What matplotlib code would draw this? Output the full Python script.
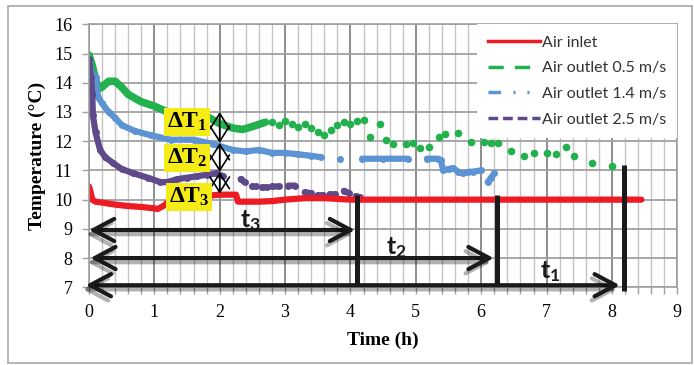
import numpy as np
import matplotlib.pyplot as plt
from matplotlib.lines import Line2D
from matplotlib.patches import Rectangle
import matplotlib.patheffects as pe

plt.rcParams['font.family'] = 'Liberation Serif'
plt.rcParams['mathtext.fontset'] = 'custom'
plt.rcParams['mathtext.rm'] = 'Liberation Serif'
plt.rcParams['mathtext.bf'] = 'Liberation Serif:bold'
plt.rcParams['mathtext.sf'] = 'Lato:bold'
plt.rcParams['lines.scale_dashes'] = False

# air inlet (continuous)
inlet_t = [0, 0.02, 0.05, 0.1, 0.2, 0.4, 0.6, 0.8, 1.0, 1.05, 1.15, 1.2, 1.4, 1.6, 1.8,
           1.9, 2.0, 2.1, 2.25, 2.28, 2.4, 2.6, 2.8, 3.0, 3.3, 3.6, 4.0, 5.0, 6.0, 7.0, 8.0, 8.45]
inlet_T = [10.45, 10.3, 10.0, 9.93, 9.9, 9.83, 9.78, 9.75, 9.7, 9.68, 9.8, 9.9, 9.93, 9.98, 10.08,
           10.15, 10.17, 10.17, 10.17, 9.93, 9.93, 9.93, 9.95, 10.0, 10.05, 10.05, 10.0, 10.0, 10.0, 10.0, 10.0, 10.0]

# air outlet 0.5 m/s: dense start, then scattered readings
o05_t = [0, 0.05, 0.1, 0.15, 0.2, 0.3, 0.4, 0.5, 0.6, 0.8, 1.0, 1.2, 1.4, 1.6, 1.8, 2.0,
         2.2, 2.35, 2.5, 2.7]
o05_T = [14.95, 14.6, 14.1, 13.8, 13.85, 14.05, 14.05, 13.85, 13.6, 13.35, 13.2, 13.0, 12.95,
         12.9, 12.85, 12.6, 12.45, 12.4, 12.5, 12.65]
o05_dot_t = [2.8, 2.9, 3.0, 3.1, 3.2, 3.3, 3.4, 3.5, 3.6, 3.7, 3.8, 3.9, 4.0, 4.1, 4.2, 4.3,
             4.45, 4.55, 4.65, 4.85, 4.95, 5.07, 5.2, 5.35, 5.45, 5.65, 5.85, 6.05, 6.15, 6.25,
             6.45, 6.65, 6.8, 7.0, 7.15, 7.3, 7.42, 7.7, 8.0]
o05_dot_T = [12.65, 12.55, 12.7, 12.6, 12.5, 12.6, 12.45, 12.3, 12.2, 12.4, 12.55, 12.65, 12.6,
             12.7, 12.72, 12.15, 12.6, 12.05, 11.9, 11.9, 11.95, 11.75, 11.8, 12.15, 12.25, 12.28,
             11.98, 11.98, 11.95, 11.95, 11.65, 11.5, 11.6, 11.6, 11.55, 11.8, 11.5, 11.25, 11.15]

# air outlet 1.4 m/s (nan = gap in the record)
o14_t = [0, 0.05, 0.1, 0.14, 0.2, 0.3, 0.4, 0.5, 0.7, 0.95, 1.25, 1.6, 1.9, 2.2, 2.4, 2.6,
         2.8, 3.0, 3.2, 3.4, 3.55, np.nan, 3.84, np.nan, 4.18, 4.5, 4.88, np.nan, 5.17, 5.34,
         5.38, 5.42, 5.5, 5.57, 5.65, 5.72, 5.8, 5.88, 6.0, np.nan, 6.1, 6.15, 6.2]
o14_T = [14.7, 14.3, 14.2, 13.5, 13.3, 13.0, 12.8, 12.55, 12.35, 12.2, 12.05, 12.05, 11.9,
         11.7, 11.65, 11.7, 11.6, 11.6, 11.55, 11.5, 11.45, np.nan, 11.4, np.nan, 11.4, 11.4,
         11.4, np.nan, 11.4, 11.4, 11.35, 11.0, 11.05, 11.08, 10.95, 10.9, 10.95, 10.96, 11.0,
         np.nan, 10.6, 10.75, 10.9]

# air outlet 2.5 m/s
o25_t = [0, 0.03, 0.05, 0.06, 0.1, 0.17, 0.25, 0.37, 0.5, 0.68, 0.9, 1.09, 1.2, 1.35, 1.5,
         1.65, 1.8, 1.95, 2.0, 2.05, np.nan, 2.32, 2.38, np.nan, 2.5, 2.55, np.nan, 2.65, 2.72,
         np.nan, 2.8, 2.9, np.nan, 3.05, 3.15, np.nan, 3.3, 3.4, np.nan, 3.5, 3.58, np.nan,
         3.68, 3.76, np.nan, 3.9, 3.98, np.nan, 4.08, 4.14]
o25_T = [14.8, 14.2, 13.6, 12.9, 12.3, 11.7, 11.45, 11.25, 11.05, 10.9, 10.75, 10.6, 10.6,
         10.7, 10.75, 10.8, 10.85, 10.9, 10.85, 10.8, np.nan, 10.7, 10.6, np.nan, 10.45, 10.45,
         np.nan, 10.42, 10.42, np.nan, 10.45, 10.45, np.nan, 10.48, 10.48, np.nan, 10.25, 10.22,
         np.nan, 10.15, 10.15, np.nan, 10.18, 10.18, np.nan, 10.3, 10.22, np.nan, 10.12, 10.08]

# stabilisation times t1, t2, t3 and delta-T marks
t_end = [8.12, 6.19, 4.07]
t_arrow_y = [7.07, 8.0, 8.96]
t_bar_x = [8.19, 6.24, 4.1]
t_bar_top = [11.2, 10.17, 10.15]
t_bar_bottom = [6.87, 7.03, 7.03]
dT_levels = [13.0, 11.94, 10.95, 10.2]

c_red = '#ed1c24'
c_green = '#22b14c'
c_blue = '#5b93d3'
c_purple = '#5e4a8b'

fig = plt.figure(figsize=(6.94, 3.65), dpi=100)
ax = fig.add_axes([0.1282, 0.2129, 0.8478, 0.7205])

ax.plot(o05_t, o05_T, color=c_green, lw=5.5, solid_capstyle='round')
ax.plot(o05_dot_t, o05_dot_T, 'o', color=c_green, ms=5.5, mew=0)
ax.plot(o14_t, o14_T, color=c_blue, lw=4.5, marker='o', ms=5, mew=0, solid_capstyle='round')
ax.plot(o25_t, o25_T, color=c_purple, lw=4.5, marker='o', ms=5, mew=0, solid_capstyle='round')
ax.plot(inlet_t, inlet_T, color=c_red, lw=4.5, solid_capstyle='round')

ax.set_xlim(0, 9)
ax.set_ylim(7, 16)
ax.set_xticks(range(0, 10))
ax.set_xticks(np.arange(0, 9.01, 0.2), minor=True)
ax.set_yticks(range(7, 17))
ax.set_axisbelow(True)
ax.grid(which='minor', axis='x', color='#c4c4c4', lw=1.0)
ax.grid(which='major', axis='x', color='#858585', lw=1.3)
ax.grid(which='major', axis='y', color='#a0a0a0', lw=1.3)
for s in ax.spines.values():
    s.set_color('#a0a0a0')
    s.set_linewidth(1.2)
ax.tick_params(which='both', direction='out', length=5, color='#a0a0a0', width=1)
ax.tick_params(axis='x', labelsize=13, pad=7)
ax.tick_params(axis='y', labelsize=13, pad=7)
ax.set_xlabel('Time (h)', fontsize=14, fontweight='bold', labelpad=8)
ax.set_ylabel('Temperature (°C)', fontsize=14, fontweight='bold', labelpad=6)

# delta T arrows at t = 2 h
for i in range(3):
    ax.annotate('', xy=(2.0, dT_levels[i]), xytext=(2.0, dT_levels[i + 1]),
                arrowprops=dict(arrowstyle='<->,head_length=1.1,head_width=0.7',
                                lw=1.2, color='black', shrinkA=0, shrinkB=0))

dT_pos = [(1.5, 12.65), (1.5, 11.42), (1.53, 10.08)]
for i, (x, y) in enumerate(dT_pos):
    ax.text(x, y, r'$\mathbf{\Delta T_%d}$' % (i + 1), fontsize=17, ha='center', va='center',
            bbox=dict(boxstyle='square,pad=0.12', fc='#f5ec17', ec='none'), zorder=6)

# stabilisation time arrows
shadow = [pe.SimpleLineShadow(offset=(-2, -3), shadow_color='black', alpha=0.3), pe.Normal()]
t_left = [-0.05, 0.02, 0.0]
for i in range(3):
    ax.plot([t_bar_x[i], t_bar_x[i]], [t_bar_bottom[i], t_bar_top[i]], color='#1a1a1a',
            lw=3.6, clip_on=False, solid_capstyle='butt', zorder=7)
    ax.annotate('', xy=(t_end[i], t_arrow_y[i]), xytext=(t_left[i], t_arrow_y[i]),
                annotation_clip=False, zorder=7,
                arrowprops=dict(arrowstyle='<->,head_length=1.5,head_width=0.8', lw=3,
                                color='#1a1a1a', shrinkA=0, shrinkB=0, path_effects=shadow))

t_lab = [(7.05, 7.55), (4.7, 8.35), (2.47, 9.3)]
for i, (x, y) in enumerate(t_lab):
    ax.text(x, y, r'$\mathsf{t_%d}$' % (i + 1), fontsize=18, ha='center', va='center',
            color='#1a1a1a', zorder=6)

handles = [Line2D([], [], color=c_red, lw=2.5),
           Line2D([], [], color=c_green, lw=2.5, ls=(0, (11, 8))),
           Line2D([], [], color=c_blue, lw=2.5, ls=(0, (9, 9, 1.5, 8.5, 1.5, 9))),
           Line2D([], [], color=c_purple, lw=2.5, ls=(0, (7, 3.5)))]
labels = ['Air inlet', 'Air outlet 0.5 m/s', 'Air outlet 1.4 m/s', 'Air outlet 2.5 m/s']
leg = ax.legend(handles, labels, loc='upper right', bbox_to_anchor=(1, 1), borderaxespad=0,
                prop=dict(family='Lato', size=11.5), handlelength=3.2, handletextpad=0.15,
                labelspacing=0.72, fancybox=False, framealpha=1, edgecolor='none',
                borderpad=0.7)
for txt in leg.get_texts():
    txt.set_color('#333333')
leg.set_zorder(8)

fig.patches.append(Rectangle((8 / 694, 2 / 365), 684 / 694, 357 / 365, transform=fig.transFigure,
                             fill=False, ec='#a8a8a8', lw=1.2))

fig.savefig('out.png', dpi=100)
